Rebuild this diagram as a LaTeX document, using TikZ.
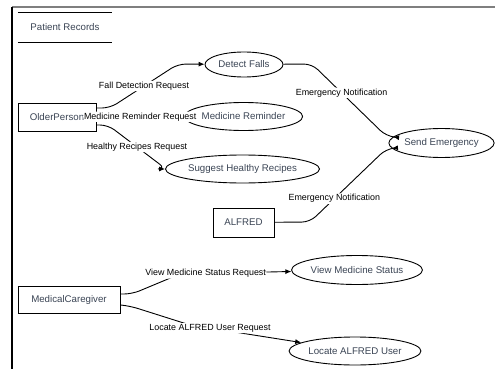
\documentclass[tikz,border=0pt]{standalone}
\usepackage{fontspec}
\setmainfont{Liberation Sans}
\usetikzlibrary{shapes.geometric,arrows.meta}
\definecolor{nodeink}{HTML}{3A4454}
\definecolor{framegray}{HTML}{7F7F7F}
\tikzstyle{flowline} = [draw,line width=0.9pt,rounded corners=8pt,-{Latex[length=6pt,width=5pt]}]
\tikzstyle{entity} = [draw,rectangle,line width=0.9pt,inner sep=0pt,text=nodeink,font=\fontsize{9.7}{11}\selectfont]
\tikzstyle{process} = [draw,ellipse,line width=0.9pt,inner sep=0pt,text=nodeink,font=\fontsize{9.7}{11}\selectfont]
\tikzstyle{store} = [inner sep=0pt,minimum width=94pt,minimum height=29pt,text=nodeink,font=\fontsize{9.7}{11}\selectfont]
\tikzstyle{flow} = [fill=white,inner sep=1pt,font=\fontsize{8.9}{10}\selectfont]

\begin{document}
\begin{tikzpicture}[x=1pt,y=-1pt]
\useasboundingbox (0,0) rectangle (495,369);

% frame
\draw[framegray,line width=2pt] (12,7) -- (495,7);
\draw[line width=1.2pt] (12,7) -- (12,369);

% data store
\node[store] (records) at (65,27.5) {Patient Records};
\draw[line width=0.9pt] (records.north west) -- (records.north east)
  (records.south west) -- (records.south east);

% entities
\node[entity,minimum width=78pt,minimum height=28pt] (older) at (57,117) {OlderPerson};
\node[entity,minimum width=61pt,minimum height=29pt] (alfred) at (243.5,222.5) {ALFRED};
\node[entity,minimum width=102pt,minimum height=27pt] (caregiver) at (69,299.5) {MedicalCaregiver};

% processes
\node[process,minimum width=78pt,minimum height=25pt] (falls) at (244,64.5) {Detect Falls};
\node[process,minimum width=111pt,minimum height=28pt] (reminder) at (243.5,116.5) {Medicine Reminder};
\node[process,minimum width=133pt,minimum height=28pt] (recipes) at (242.5,169) {Suggest Healthy Recipes};
\node[process,minimum width=97pt,minimum height=29pt] (emergency) at (441.5,143) {Send Emergency};
\node[process,minimum width=120pt,minimum height=29pt] (status) at (357,270) {View Medicine Status};
\node[process,minimum width=120pt,minimum height=28pt] (locate) at (355,351) {Locate ALFRED User};

% flows
\draw[flowline] ([yshift=9pt]older.east) -- (110,108)
  -- node[flow] {Fall Detection Request} (178,64) -- (falls);
\draw[flowline] (older) -- node[flow] {Medicine Reminder Request} (reminder);
\draw[flowline] ([yshift=-8pt]older.east) -- (108,125)
  -- node[flow] {Healthy Recipes Request} (166,169) -- (recipes);
\draw[flowline] (falls) -- (312,64)
  -- node[flow,pos=0.4] {Emergency Notification} (386,136) -- (emergency);
\draw[flowline] (alfred) -- (310,222)
  -- node[flow,pos=0.32] {Emergency Notification} (386,149) -- (emergency);
\draw[flowline] ([yshift=5.5pt]caregiver.east) -- (132,294) -- (180,274)
  -- node[flow,pos=0.23] {View Medicine Status Request} (status);
\draw[flowline] ([yshift=-5.5pt]caregiver.east) -- (130,306) -- (190,325)
  -- node[flow,pos=0.18] {Locate ALFRED User Request} (locate);

\end{tikzpicture}
\end{document}
